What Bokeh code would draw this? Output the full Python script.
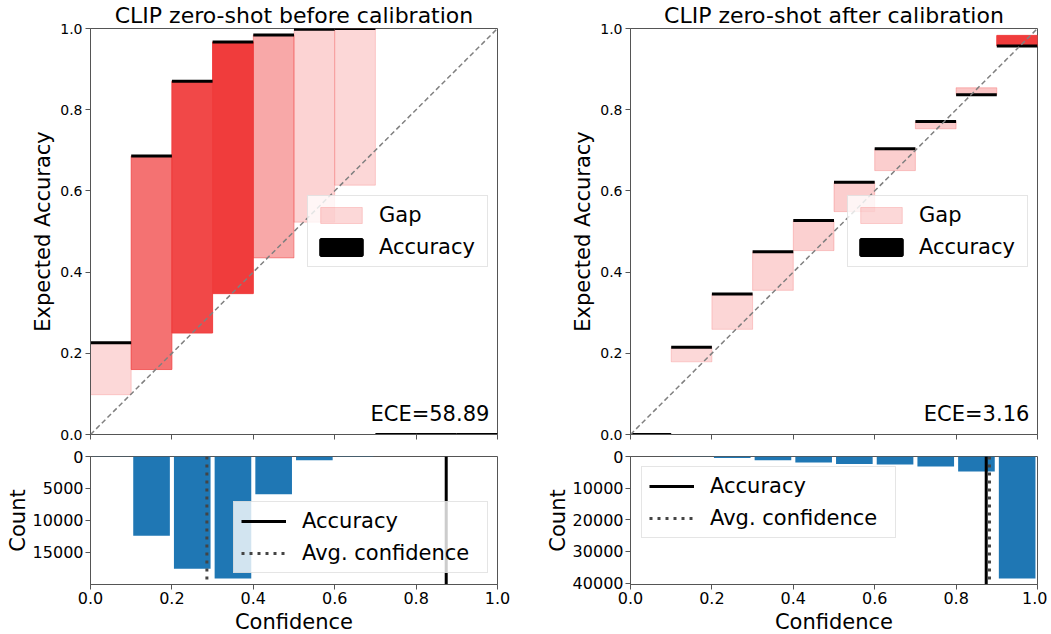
from bokeh.plotting import figure
from bokeh.layouts import column, row
from bokeh.models import (ColumnDataSource, Range1d, FixedTicker, PrintfTickFormatter,
                          Label, Legend, LegendItem, Slope, CustomLabelingPolicy)
from bokeh.embed import file_html
from bokeh.resources import INLINE

FONT = "DejaVu Sans"
GAP_COLOR = "#F03C3C"
HIST_COLOR = "#1f77b4"
SPINE = "#555555"

# ---------------- data ----------------
bin_lo = [0.0, 0.1, 0.2, 0.3, 0.4, 0.5, 0.6, 0.7, 0.8, 0.9]
bin_hi = [0.1, 0.2, 0.3, 0.4, 0.5, 0.6, 0.7, 0.8, 0.9, 1.0]
conf_ticks = [0.0, 0.2, 0.4, 0.6, 0.8, 1.0]

titles = ["CLIP zero-shot before calibration", "CLIP zero-shot after calibration"]

acc_before = [0.226, 0.686, 0.870, 0.967, 0.984, 0.998, 1.0, 0.0, 0.0, 0.0]
conf_before = [0.098, 0.160, 0.250, 0.347, 0.435, 0.523, 0.614, 0.0, 0.0, 0.0]
counts_before = [40, 12400, 17550, 19050, 5880, 580, 60, 0, 0, 0]
avg_acc_before = 0.874
avg_conf_before = 0.286
ece_before = 58.89
count_ticks_before = [0, 5000, 10000, 15000]

acc_after = [0.0, 0.215, 0.346, 0.450, 0.527, 0.621, 0.704, 0.771, 0.837, 0.957]
conf_after = [0.0, 0.179, 0.259, 0.355, 0.453, 0.549, 0.650, 0.753, 0.854, 0.983]
counts_after = [0, 80, 500, 1150, 1900, 2400, 2500, 3150, 4750, 38500]
avg_acc_after = 0.874
avg_conf_after = 0.882
ece_after = 3.16
count_ticks_after = [0, 10000, 20000, 30000, 40000]


def style(p, ylabel, tick_size, xlabel=None, show_xlabels=True,
          label_standoff=5, tick_standoff=3):
    p.outline_line_color = SPINE
    p.outline_line_width = 1
    p.xgrid.visible = False
    p.ygrid.visible = False
    p.background_fill_color = "white"
    p.border_fill_color = "white"
    for ax in (p.xaxis[0], p.yaxis[0]):
        ax.axis_line_color = SPINE
        ax.major_tick_line_color = SPINE
        ax.minor_tick_line_color = None
        ax.major_tick_in = 0
        ax.major_tick_out = 5
        ax.major_label_text_font = FONT
        ax.major_label_text_font_size = tick_size
        ax.major_label_text_color = "black"
        ax.axis_label_text_font = FONT
        ax.axis_label_text_font_size = "21px"
        ax.axis_label_text_font_style = "normal"
        ax.axis_label_text_color = "black"
    p.yaxis[0].axis_label = ylabel
    p.yaxis[0].axis_label_standoff = label_standoff
    p.yaxis[0].major_label_standoff = tick_standoff
    p.xaxis[0].ticker = FixedTicker(ticks=conf_ticks)
    p.xaxis[0].formatter = PrintfTickFormatter(format="%.1f")
    if show_xlabels:
        p.xaxis[0].axis_label = xlabel
        p.xaxis[0].major_label_standoff = 2
        p.xaxis[0].axis_label_standoff = 3
    else:
        p.xaxis[0].major_label_text_font_size = "1px"
        p.xaxis[0].major_label_standoff = 0
        p.xaxis[0].major_label_policy = CustomLabelingPolicy(
            code="const n = indices.size; for (let i = 0; i < n; i++) { indices.unset(i) } return indices")


def leg_style(leg, glyph_width, glyph_height, label_width, label_standoff):
    leg.label_text_font = FONT
    leg.label_text_font_size = "21px"
    leg.label_text_color = "black"
    leg.border_line_color = "#cccccc"
    leg.border_line_width = 1
    leg.background_fill_color = "white"
    leg.background_fill_alpha = 0.8
    leg.padding = 7
    leg.spacing = 8
    leg.margin = 0
    leg.glyph_width = glyph_width
    leg.glyph_height = glyph_height
    leg.label_width = label_width
    leg.label_standoff = label_standoff


def rel_fig(acc, conf, counts, ece, title, left_border, right_border):
    p = figure(frame_width=407, frame_height=406,
               x_range=Range1d(0, 1), y_range=Range1d(0, 1),
               min_border_left=left_border, min_border_right=right_border,
               min_border_top=28, min_border_bottom=11,
               output_backend="svg", toolbar_location=None, tools="")
    p.title.text = title
    p.title.align = "center"
    p.title.text_font = FONT
    p.title.text_font_size = "22px"
    p.title.text_font_style = "normal"
    p.title.text_color = "black"
    p.title.standoff = 1

    maxc = max(counts)
    alphas = [0.2 + 0.8 * c / maxc for c in counts]
    src = ColumnDataSource(dict(
        left=bin_lo, right=bin_hi,
        bottom=[min(a, c) for a, c in zip(acc, conf)],
        top=[max(a, c) for a, c in zip(acc, conf)],
        alpha=alphas, acc=acc))
    gap = p.quad(left="left", right="right", bottom="bottom", top="top", source=src,
                 fill_color=GAP_COLOR, fill_alpha="alpha",
                 line_color=GAP_COLOR, line_alpha="alpha", line_width=1)
    accr = p.quad(left="left", right="right", bottom="acc", top="acc", source=src,
                  fill_color="black", line_color="black", line_width=3)
    p.add_layout(Slope(gradient=1, y_intercept=0, line_color="gray",
                       line_dash="5 3", line_width=1.5))
    style(p, "Expected Accuracy", "14px", show_xlabels=False,
          label_standoff=2, tick_standoff=3)
    p.yaxis[0].ticker = FixedTicker(ticks=conf_ticks)
    p.yaxis[0].formatter = PrintfTickFormatter(format="%.1f")

    p.add_layout(Label(x=0.98, y=0.02, text="ECE=%.2f" % ece, text_align="right",
                       text_baseline="bottom",
                       text_font=FONT, text_font_size="21px", text_color="black"))
    leg = Legend(items=[LegendItem(label="Gap", renderers=[gap], index=0),
                        LegendItem(label="Accuracy", renderers=[accr], index=0)],
                 location=(217, 167))
    leg_style(leg, glyph_width=52, glyph_height=20, label_width=101, label_standoff=12)
    p.add_layout(leg)
    return p


def hist_fig(counts, ticks, avg_acc, avg_conf, left_border, right_border, loc):
    ymax = max(counts) * 1.05
    p = figure(frame_width=407, frame_height=128,
               x_range=Range1d(0, 1), y_range=Range1d(ymax, 0),
               min_border_left=left_border, min_border_right=right_border,
               min_border_top=11, min_border_bottom=0,
               output_backend="svg", toolbar_location=None, tools="")
    p.quad(left=[lo + 0.005 for lo in bin_lo], right=[hi - 0.005 for hi in bin_hi],
           bottom=[0] * len(counts), top=counts,
           fill_color=HIST_COLOR, line_color=None)
    a = p.segment(x0=[avg_acc], y0=[0], x1=[avg_acc], y1=[ymax],
                  line_color="black", line_width=3)
    c = p.segment(x0=[avg_conf], y0=[0], x1=[avg_conf], y1=[ymax],
                  line_color="#444444", line_width=3, line_dash="3 5")
    style(p, "Count", "16px", xlabel="Confidence", show_xlabels=True,
          label_standoff=0, tick_standoff=2)
    p.yaxis[0].ticker = FixedTicker(ticks=ticks)
    p.yaxis[0].formatter = PrintfTickFormatter(format="%d")
    leg = Legend(items=[LegendItem(label="Accuracy", renderers=[a]),
                        LegendItem(label="Avg. confidence", renderers=[c])],
                 location=loc)
    leg_style(leg, glyph_width=45, glyph_height=20, label_width=178, label_standoff=16)
    p.add_layout(leg)
    return p


tl = rel_fig(acc_before, conf_before, counts_before, ece_before, titles[0], 90, 20)
tr = rel_fig(acc_after, conf_after, counts_after, ece_after, titles[1], 113, 10)
bl = hist_fig(counts_before, count_ticks_before, avg_acc_before, avg_conf_before, 90, 20, (143, 11))
br = hist_fig(counts_after, count_ticks_after, avg_acc_after, avg_conf_after, 113, 10, (11, 46))

layout = column(row(tl, tr), row(bl, br))
open("out.html", "w").write(file_html(layout, INLINE))
